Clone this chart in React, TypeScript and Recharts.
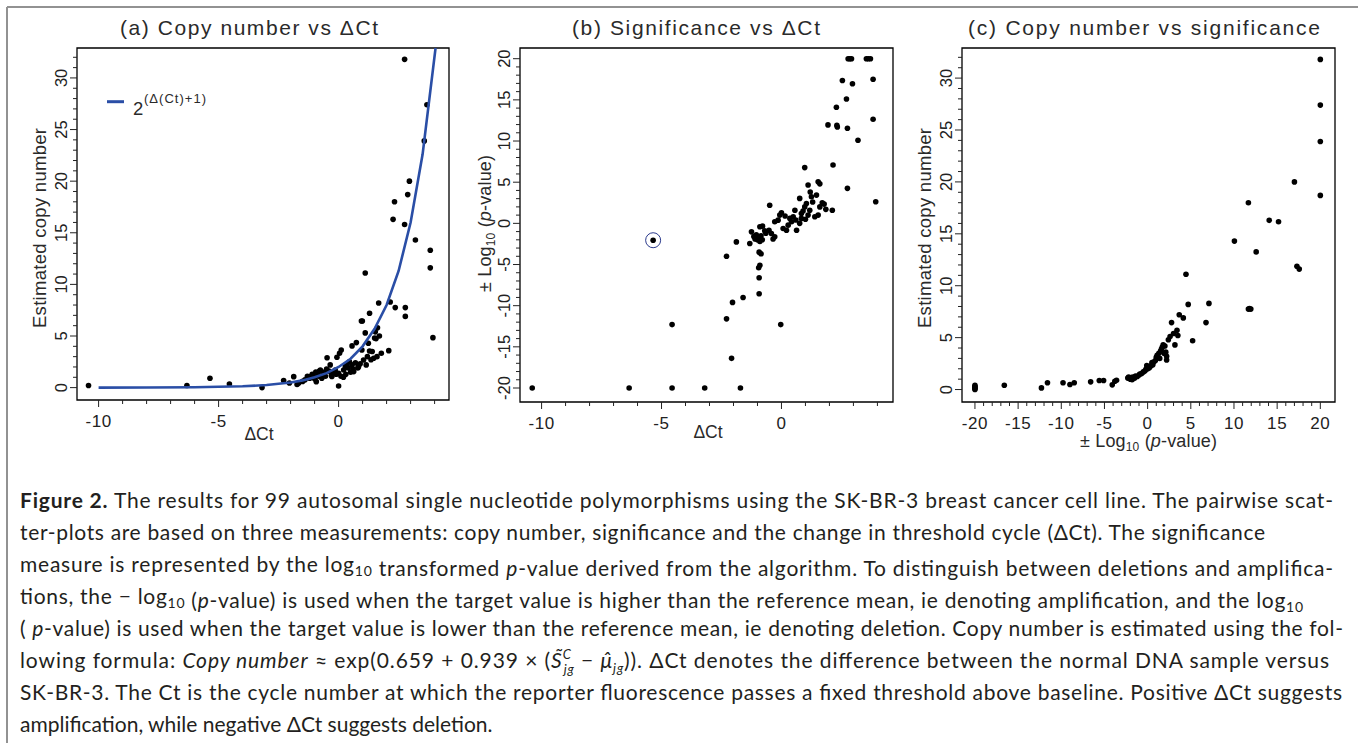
import { ScatterChart, Scatter, XAxis, YAxis, ReferenceArea } from 'recharts';

const INK = '#222';
const BLUE = '#2a4ea6';
const PLOT_FONT = '"Liberation Sans", Arial, sans-serif';
const TEXT_FONT = 'Lato, "Open Sans", sans-serif';

// (a) copy number vs delta Ct
const ctA = [
  -10.42, -6.32, -5.36, -4.55, -3.19, -2.29, -2.05, -1.87, -1.73, -1.67,
  -1.5, -1.4, -1.3, -1.2, -1.18, -1.1, -1.04, -1.0, -0.95, -0.93,
  -0.9, -0.85, -0.8, -0.76, -0.7, -0.65, -0.6, -0.55, -0.5, -0.48,
  -0.4, -0.35, -0.3, -0.28, -0.2, -0.14, -0.1, -0.07, 0.0, 0.0,
  0.04, 0.1, 0.11, 0.2, 0.21, 0.28, 0.3, 0.35, 0.4, 0.45,
  0.5, 0.56, 0.56, 0.6, 0.63, 0.7, 0.74, 0.8, 0.83, 0.9,
  0.95, 0.99, 0.97, 1.04, 1.11, 1.11, 1.15, 1.2, 1.24, 1.29,
  1.29, 1.35, 1.4, 1.46, 1.5, 1.53, 1.56, 1.6, 1.62, 1.67,
  1.7, 1.78, 2.09, 2.15, 2.27, 2.33, 2.36, 2.75, 2.75, 2.78,
  2.78, 2.88, 2.95, 3.2, 3.57, 3.68, 3.82, 3.82, 3.93,
];
const copyA = [
  0.2, 0.2, 0.9, 0.35, 0.0, 0.68, 0.45, 1.06, 0.3, 0.42,
  0.6, 0.75, 1.1, 0.9, 1.07, 1.3, 1.23, 0.85, 1.5, 0.58,
  1.39, 1.1, 1.6, 1.71, 0.9, 1.3, 1.5, 1.1, 1.8, 2.9,
  1.6, 2.2, 1.2, 1.07, 1.5, 1.71, 1.3, 2.94, 1.39, 0.16,
  3.33, 1.1, 3.65, 1.0, 1.71, 2.03, 1.3, 2.2, 1.9, 2.5,
  1.5, 4.04, 2.2, 1.8, 1.55, 2.4, 4.36, 1.9, 2.03, 2.3,
  6.45, 6.45, 3.65, 2.68, 11.1, 5.3, 2.2, 3.0, 4.3, 7.2,
  3.55, 2.7, 3.5, 2.84, 4.8, 5.4, 4.75, 3.0, 5.8, 8.2,
  5.0, 3.33, 3.58, 8.3, 16.3, 18.0, 7.75, 31.8, 15.8, 7.75,
  6.9, 18.7, 20.0, 14.3, 23.9, 27.4, 13.3, 11.6, 4.84,
];
const curveCt = [-10, -8, -6, -4, -3, -2, -1.5, -1, -0.5, 0, 0.5, 1, 1.5, 2, 2.5, 3, 3.5, 4.04];
const curveCopy = [0.0, 0.01, 0.03, 0.13, 0.25, 0.5, 0.7, 1.0, 1.4, 2.0, 2.8, 4.0, 5.7, 8.0, 11.3, 16.0, 22.6, 32.9];

// (b) significance vs delta Ct
const ctB = [
  -10.39, -6.35, -4.56, -3.2, -1.71, -4.56, -5.35, -2.29, -2.29, -2.04,
  -1.6, -2.08, -0.03, -1.88, -0.93, -0.93, -0.95, -0.9, -0.93, -0.85,
  -1.32, -1.25, -1.15, -1.1, -1.05, -1.0, -0.95, -0.9, -0.85, -0.8,
  -0.9, -0.79, -0.7, -0.65, -0.49, -0.52, -0.42, -0.28, -0.35, -0.28,
  -0.14, -0.07, 0.0, 0.07, 0.21, 0.28, 0.42, 0.56, 0.49, 0.63,
  0.76, 0.83, 0.83, 0.76, 0.97, 1.04, 1.11, 1.18, 1.25, 1.46,
  1.39, 1.53, 1.6, 1.85, 0.97, 1.11, 1.53, 1.6, 1.2, 1.3,
  0.9, 0.6, 0.35, 0.15, 1.0, 1.7, 2.15, 2.12, 1.78, 1.94,
  2.29, 2.31, 2.33, 2.54, 2.71, 2.75, 2.75, 2.78, 2.85, 2.92,
  2.96, 3.19, 3.54, 3.62, 3.71, 3.82, 3.82, 3.93,
];
const sigB = [
  -20, -20, -20, -20, -20, -12.3, -2.05, -4.0, -11.6, -9.6,
  -9.0, -16.4, -12.3, -2.25, -8.55, -6.6, -5.4, -5.1, -3.5, -3.7,
  -2.45, -1.03, -1.6, -1.9, -1.4, -2.0, -1.7, -2.2, -1.5, -2.0,
  -0.42, -0.34, -0.9, -1.2, 2.2, -0.83, -1.23, -1.64, -1.9, 0.19,
  0.39, 1.0, 1.28, -0.62, -0.83, -0.22, 0.19, 1.6, 0.8, -0.83,
  0.0, 0.6, 1.2, 3.03, 2.0, 2.42, 1.0, 1.6, 3.23, 3.43,
  0.8, 1.0, 2.0, 1.7, 6.77, 4.65, 5.06, 4.8, 3.8, 2.6,
  1.5, 0.4, 0.6, 0.9, 0.5, 2.5, 7.09, 1.6, 2.34, 11.96,
  14.1, 11.9, 11.7, 17.36, 15.1, 11.55, 4.25, 20, 20, 20,
  16.95, 10.1, 20, 20, 20, 17.5, 12.65, 2.62,
];
const circledCt = [-5.35];
const circledSig = [-2.05];

// (c) copy number vs significance
const sigC = [
  -20, -20, -20, -20, -20, -16.6, -12.3, -11.6, -9.8, -9.0,
  -8.5, -6.6, -5.6, -5.1, -4.1, -3.8, -3.6, -2.3, -2.2, -2.0,
  -1.9, -1.8, -1.7, -1.5, -1.4, -1.2, -1.0, -0.9, -0.7, -0.5,
  -0.3, -0.2, -0.1, 0.0, 0.2, 0.4, 0.5, 0.6, 0.7, 0.9,
  1.0, 1.1, 1.3, 1.4, 1.5, 1.6, 1.7, 1.8, 1.9, 2.0,
  2.1, 2.2, 2.2, 2.4, 2.6, 2.77, 3.0, 3.16, 3.4, 3.5,
  3.66, 4.13, 4.44, 4.7, 5.21, 6.76, 7.1, 10.05, 11.67, 11.67,
  11.8, 11.95, 12.57, 14.08, 15.16, 17.0, 17.29, 17.56, 20, 20,
  20, 20,
];
const copyC = [
  0.0, 0.1, 0.2, 0.3, 0.4, 0.42, 0.16, 0.65, 0.65, 0.48,
  0.65, 0.74, 0.87, 0.87, 0.45, 0.8, 0.9, 1.1, 1.2, 1.0,
  1.15, 0.95, 1.2, 1.1, 1.3, 1.25, 1.4, 1.5, 1.55, 1.7,
  1.8, 1.95, 2.3, 2.0, 2.1, 2.3, 2.6, 2.4, 2.65, 2.8,
  3.1, 3.3, 3.5, 3.0, 3.7, 3.9, 4.1, 4.3, 3.5, 4.2,
  3.6, 3.2, 2.85, 4.8, 5.1, 6.45, 5.4, 4.3, 5.7, 5.2,
  7.2, 6.9, 11.1, 8.2, 4.7, 6.45, 8.3, 14.3, 18.0, 7.75,
  7.8, 7.75, 13.26, 16.3, 16.16, 20.0, 11.87, 11.6, 31.8, 27.4,
  23.9, 18.7,
];

const ticksCt = [-10, -9, -8, -7, -6, -5, -4, -3, -2, -1, 0, 1, 2, 3, 4];
const ticksCopy = Array.from({ length: 33 }, (_, i) => i);
const ticksSig = Array.from({ length: 41 }, (_, i) => i - 20);

const zip = (xs: number[], ys: number[]) => xs.map((x, i) => ({ x, y: ys[i] }));

const XTick = (props: any) => {
  const { x, y, payload } = props;
  const v = payload.value;
  const major = v % 5 === 0;
  return (
    <g>
      <line x1={x} x2={x} y1={y} y2={y + (major ? 7 : 4)} stroke={INK} />
      {major && (
        <text x={x} y={y + 27} textAnchor="middle" fontSize={17} letterSpacing={0.6} fill={INK} fontFamily={PLOT_FONT}>
          {v}
        </text>
      )}
    </g>
  );
};

const YTick = (props: any) => {
  const { x, y, payload } = props;
  const v = payload.value;
  const major = v % 5 === 0;
  return (
    <g>
      <line x1={x} x2={x - (major ? 7 : 4)} y1={y} y2={y} stroke={INK} />
      {major && (
        <text transform={`translate(${x - 10},${y}) rotate(-90)`} textAnchor="middle" fontSize={16.5} fill={INK} fontFamily={PLOT_FONT}>
          {v}
        </text>
      )}
    </g>
  );
};

const Dot = (p: any) => <circle cx={p.cx} cy={p.cy} r={2.8} fill="#000" />;

interface PanelProps {
  left: number;
  width: number;
  plotLeft: number;
  plotRight: number;
  plotBottom: number;
  xDomain: [number, number];
  yDomain: [number, number];
  xTicks: number[];
  yTicks: number[];
  children: React.ReactNode;
}

function Panel({ left, width, plotLeft, plotRight, plotBottom, xDomain, yDomain, xTicks, yTicks, children }: PanelProps) {
  return (
    <div style={{ position: 'absolute', left, top: 0 }}>
      <ScatterChart width={width} height={460} margin={{ top: 48, right: left + width - plotRight, bottom: 0, left: 0 }}>
        <XAxis
          type="number"
          dataKey="x"
          domain={xDomain}
          ticks={xTicks}
          interval={0}
          allowDataOverflow
          axisLine={false}
          tickLine={false}
          tickSize={0}
          tickMargin={0}
          height={460 - plotBottom}
          tick={XTick}
        />
        <YAxis
          type="number"
          dataKey="y"
          domain={yDomain}
          ticks={yTicks}
          interval={0}
          allowDataOverflow
          axisLine={false}
          tickLine={false}
          tickSize={0}
          tickMargin={0}
          width={plotLeft - left}
          tick={YTick}
        />
        <ReferenceArea
          x1={xDomain[0]}
          x2={xDomain[1]}
          y1={yDomain[0]}
          y2={yDomain[1]}
          fill="none"
          stroke="#000"
          strokeWidth={1.3}
          ifOverflow="visible"
        />
        {children}
      </ScatterChart>
    </div>
  );
}

const sub = (t: string) => (
  <>
    <tspan dy={4} fontSize={14}>{t}</tspan>
    <tspan dy={-4}>{''}</tspan>
  </>
);

export default function App() {
  const capY = (i: number) => 508.3 + 31.95 * i;
  return (
    <div style={{ position: 'absolute', left: 0, top: 0, width: 1358, height: 743, background: '#fff', overflow: 'hidden' }}>
      <Panel left={0} width={460} plotLeft={77} plotRight={449} plotBottom={400}
        xDomain={[-10.9, 4.6]} yDomain={[-1.2, 32.9]} xTicks={ticksCt} yTicks={ticksCopy}>
        <Scatter data={zip(ctA, copyA)} shape={Dot} isAnimationActive={false} />
        <Scatter data={zip(curveCt, curveCopy)} fill={BLUE} line={{ stroke: BLUE, strokeWidth: 2.6 }} shape={() => <g />} isAnimationActive={false} />
      </Panel>
      <Panel left={460} width={450} plotLeft={520} plotRight={893} plotBottom={402}
        xDomain={[-10.9, 4.65]} yDomain={[-21.7, 21.3]} xTicks={ticksCt} yTicks={ticksSig}>
        <Scatter data={zip(ctB, sigB)} shape={Dot} isAnimationActive={false} />
        <Scatter data={zip(circledCt, circledSig)}
          shape={(p: any) => <circle cx={p.cx} cy={p.cy} r={7.5} fill="none" stroke="#2b3a8c" strokeWidth={1} />}
          isAnimationActive={false} />
      </Panel>
      <Panel left={910} width={448} plotLeft={962} plotRight={1335} plotBottom={402}
        xDomain={[-21.5, 21.7]} yDomain={[-1.2, 32.9]} xTicks={ticksSig} yTicks={ticksCopy}>
        <Scatter data={zip(sigC, copyC)} shape={Dot} isAnimationActive={false} />
      </Panel>

      <svg width={1358} height={743} style={{ position: 'absolute', left: 0, top: 0, pointerEvents: 'none' }}>
        <line x1={7} y1={7} x2={1358} y2={7} stroke="#929292" strokeWidth={2} />
        <line x1={7} y1={7} x2={7} y2={743} stroke="#929292" strokeWidth={2} />

        <g fontFamily={PLOT_FONT} fill="#2a2a2a">
          <text x={120} y={35} fontSize={21} textLength={258} lengthAdjust="spacing">(a) Copy number vs ΔCt</text>
          <text x={572} y={35} fontSize={21} textLength={248} lengthAdjust="spacing">(b) Significance vs ΔCt</text>
          <text x={968} y={35} fontSize={21} textLength={352} lengthAdjust="spacing">(c) Copy number vs significance</text>

          <text transform="translate(46,228) rotate(-90)" textAnchor="middle" fontSize={18.5} textLength={200} lengthAdjust="spacing">Estimated copy number</text>
          <text transform="translate(930.5,228) rotate(-90)" textAnchor="middle" fontSize={18.5} textLength={200} lengthAdjust="spacing">Estimated copy number</text>
          <text x={259} y={440} textAnchor="middle" fontSize={17.5}>ΔCt</text>
          <text x={708} y={438} textAnchor="middle" fontSize={17.5}>ΔCt</text>
          <text transform="translate(491,223.5) rotate(-90)" textAnchor="middle" fontSize={18} textLength={137} lengthAdjust="spacing">
            ± Log<tspan dy={4} fontSize={12}>10</tspan><tspan dy={-4}> (</tspan><tspan fontStyle="italic">p</tspan>-value)
          </text>
          <text x={1080} y={447} fontSize={18} textLength={137} lengthAdjust="spacing">
            ± Log<tspan dy={4} fontSize={12}>10</tspan><tspan dy={-4}> (</tspan><tspan fontStyle="italic">p</tspan>-value)
          </text>

          <line x1={107} y1={101.7} x2={124} y2={101.7} stroke={BLUE} strokeWidth={3} />
          <text x={133} y={115} fontSize={18.5}>2</text>
          <text x={144} y={103} fontSize={13} textLength={62} lengthAdjust="spacing">(Δ(Ct)+1)</text>
        </g>

        <g fontFamily={TEXT_FONT} fontSize={21} fill="#231f20">
          <text x={20} y={capY(0)} textLength={1313} lengthAdjust="spacing">
            <tspan fontWeight="bold">Figure 2.</tspan>
            {' The results for 99 autosomal single nucleotide polymorphisms using the SK-BR-3 breast cancer cell line. The pairwise scat-'}
          </text>
          <text x={20} y={capY(1)} textLength={1245} lengthAdjust="spacing">
            ter-plots are based on three measurements: copy number, significance and the change in threshold cycle (ΔCt). The significance
          </text>
          <text x={20} y={capY(2)} textLength={1313} lengthAdjust="spacing">
            {'measure is represented by the log'}
            {sub('10')}
            <tspan>{' transformed '}</tspan>
            <tspan fontStyle="italic">p</tspan>
            {'-value derived from the algorithm. To distinguish between deletions and amplifica-'}
          </text>
          <text x={20} y={capY(3)} textLength={1283} lengthAdjust="spacing">
            {'tions, the − log'}
            {sub('10')}
            <tspan>{' ('}</tspan>
            <tspan fontStyle="italic">p</tspan>
            {'-value) is used when the target value is higher than the reference mean, ie denoting amplification, and the log'}
            <tspan dy={4} fontSize={14}>10</tspan>
          </text>
          <text x={20} y={capY(4)} textLength={1323} lengthAdjust="spacing">
            {'( '}
            <tspan fontStyle="italic">p</tspan>
            {'-value) is used when the target value is lower than the reference mean, ie denoting deletion. Copy number is estimated using the fol-'}
          </text>
          <text x={20} y={capY(5)} textLength={1309} lengthAdjust="spacing">
            {'lowing formula: '}
            <tspan fontStyle="italic">Copy number</tspan>
            <tspan>{' ≈ exp(0.659 + 0.939 × ('}</tspan>
            <tspan fontStyle="italic">{'S\u0303'}</tspan>
            <tspan dy={-9} fontSize={13} fontStyle="italic">C</tspan>
            <tspan dx={-8} dy={15} fontSize={13} fontStyle="italic">jg</tspan>
            <tspan dy={-6}>{' − '}</tspan>
            <tspan fontStyle="italic">{'\u03bc\u0302'}</tspan>
            <tspan dy={5} fontSize={13} fontStyle="italic">jg</tspan>
            <tspan dy={-5}>{')). ΔCt denotes the difference between the normal DNA sample versus'}</tspan>
          </text>
          <text x={20} y={capY(6)} textLength={1322} lengthAdjust="spacing">
            SK-BR-3. The Ct is the cycle number at which the reporter fluorescence passes a fixed threshold above baseline. Positive ΔCt suggests
          </text>
          <text x={20} y={capY(7)}>amplification, while negative ΔCt suggests deletion.</text>
        </g>
      </svg>
    </div>
  );
}
